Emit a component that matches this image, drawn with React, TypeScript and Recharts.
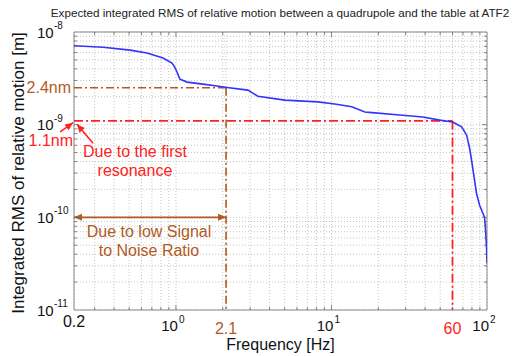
import { CartesianGrid, Line, LineChart, ReferenceArea, ReferenceDot, ReferenceLine, XAxis, YAxis } from "recharts";

const FONT = "'Liberation Sans', Arial, sans-serif";
const BROWN = "#b25a22";
const RED = "#ff2222";
const BLUE = "#3333ff";
const PLOT_W = 413;
const PLOT_H = 278;

// integrated RMS curve
const freqHz = [0.221, 0.34, 0.507, 0.651, 0.825, 0.943, 0.98, 1.015, 1.06, 1.18, 1.49, 1.83, 2.13, 2.9, 3.36, 5.01, 8.17, 10.5, 13.5, 16.4, 18.2, 27.5, 38.6, 49.6, 60.1, 68.7, 74, 77.3, 79.6, 83.2, 85.6, 89.6, 96.5, 98, 99.5, 100];
const rmsM = [7.11e-9, 6.84e-9, 6.38e-9, 5.93e-9, 5.24e-9, 4.62e-9, 4.2e-9, 3.7e-9, 3.1e-9, 2.88e-9, 2.74e-9, 2.61e-9, 2.52e-9, 2.36e-9, 2.03e-9, 1.84e-9, 1.76e-9, 1.67e-9, 1.56e-9, 1.37e-9, 1.35e-9, 1.27e-9, 1.21e-9, 1.12e-9, 1.07e-9, 9.46e-10, 7.7e-10, 5.57e-10, 4.13e-10, 2.51e-10, 1.82e-10, 1.35e-10, 1.0e-10, 7e-11, 4.5e-11, 3.2e-11];

const xTicks = [0.221, 0.3, 0.4, 0.5, 0.6, 0.7, 0.8, 0.9, 1, 2, 2.1, 3, 4, 5, 6, 7, 8, 9, 10, 20, 30, 40, 50, 60, 70, 80, 90, 100];
const yTicks = [1e-11, 2e-11, 3e-11, 4e-11, 5e-11, 6e-11, 7e-11, 8e-11, 9e-11, 1e-10, 2e-10, 3e-10, 4e-10, 5e-10, 6e-10, 7e-10, 8e-10, 9e-10, 1e-9, 2e-9, 3e-9, 4e-9, 5e-9, 6e-9, 7e-9, 8e-9, 9e-9, 1e-8];

const X_MIN = 0.221;
const X_MAX = 100;
const Y_MIN = 1e-11;
const Y_MAX = 1e-8;
const SNR_F = 2.1;
const SNR_V = 2.5e-9;
const RES_F = 60;
const RES_V = 1.1e-9;

const data = freqHz.map((f, i) => ({ f, v: rmsM[i] }));

const isDecade = (v: number) => {
  const e = Math.log10(v);
  return Math.abs(e - Math.round(e)) < 1e-6;
};

function XTick(props: any) {
  const { x, y, payload } = props;
  const v = payload.value;
  const len = isDecade(v) ? 5 : 3;
  const marks =
    v === X_MIN || v === X_MAX || v === SNR_F ? null : (
      <g stroke="#666" strokeWidth={0.8}>
        <line x1={x} y1={y} x2={x} y2={y - len} />
        <line x1={x} y1={y - PLOT_H} x2={x} y2={y - PLOT_H + len} />
      </g>
    );
  if (v === X_MIN) {
    return <text x={x} y={y + 16.5} textAnchor="middle" fontSize={16} fontFamily={FONT} fill="#111">0.2</text>;
  }
  if (v === SNR_F || v === RES_F) {
    return (
      <g>
        {marks}
        <text x={x} y={y + 23.5} textAnchor="middle" fontSize={16} fontFamily={FONT} fill={v === SNR_F ? BROWN : RED}>
          {v}
        </text>
      </g>
    );
  }
  if (!isDecade(v)) return marks;
  const e = Math.round(Math.log10(v));
  return (
    <g>
      {marks}
      <g fontFamily={FONT} fill="#111">
        <text x={x + 2} y={y + 21} textAnchor="end" fontSize={15}>10</text>
        <text x={x + 3} y={y + 13} fontSize={10}>{e}</text>
      </g>
    </g>
  );
}

function YTick(props: any) {
  const { x, y, payload } = props;
  const v = payload.value;
  const len = isDecade(v) ? 5 : 3;
  const marks =
    v === Y_MIN || v === Y_MAX ? null : (
      <g stroke="#666" strokeWidth={0.8}>
        <line x1={x} y1={y} x2={x + len} y2={y} />
        <line x1={x + PLOT_W} y1={y} x2={x + PLOT_W - len} y2={y} />
      </g>
    );
  if (!isDecade(v)) return marks;
  const e = Math.round(Math.log10(v));
  return (
    <g>
      {marks}
      <g fontFamily={FONT} fill="#111">
        <text x={x - 37} y={y + 5.5} fontSize={15}>10</text>
        <text x={x - 20} y={y - 3} fontSize={10}>{e}</text>
      </g>
    </g>
  );
}

function Arrow(props: any) {
  const { x1, y1, x2, y2, color, both } = props;
  const a = Math.atan2(y2 - y1, x2 - x1);
  const head = (px: number, py: number, ang: number) => {
    const L = 8;
    const W = 3.5;
    const bx = px - L * Math.cos(ang);
    const by = py - L * Math.sin(ang);
    const nx = -Math.sin(ang) * W;
    const ny = Math.cos(ang) * W;
    return `${px},${py} ${bx + nx},${by + ny} ${bx - nx},${by - ny}`;
  };
  return (
    <g>
      <line x1={x1} y1={y1} x2={x2} y2={y2} stroke={color} strokeWidth={1.6} />
      <polygon points={head(x2, y2, a)} fill={color} />
      {both && <polygon points={head(x1, y1, a + Math.PI)} fill={color} />}
    </g>
  );
}

function Note(props: any) {
  const { cx, cy, lines, color, anchor, dx, dy } = props;
  return (
    <text x={cx + dx} y={cy + dy} textAnchor={anchor} fontSize={16} fontFamily={FONT} fill={color}>
      {lines.map((t: string, i: number) => (
        <tspan key={i} x={cx + dx} dy={i === 0 ? 0 : 19.5}>
          {t}
        </tspan>
      ))}
    </text>
  );
}

export default function App() {
  return (
    <div style={{ position: "absolute", left: 0, top: 0, width: 529, height: 356, background: "#fff", overflow: "hidden" }}>
      <div
        style={{
          position: "absolute",
          left: 280,
          top: 6,
          transform: "translateX(-50%)",
          whiteSpace: "nowrap",
          fontFamily: FONT,
          fontSize: 11.7,
          color: "#222",
          lineHeight: "14px",
        }}
      >
        Expected integrated RMS of relative motion between a quadrupole and the table at ATF2
      </div>
      <LineChart width={529} height={356} data={data} margin={{ top: 32, right: 42, bottom: 0, left: 0 }}>
        <CartesianGrid stroke="#c4c4c4" strokeDasharray="1 2" />
        <XAxis
          dataKey="f"
          type="number"
          scale="log"
          domain={[X_MIN, X_MAX]}
          allowDataOverflow
          ticks={xTicks}
          interval={0}
          tick={<XTick />}
          tickSize={0}
          tickMargin={0}
          tickLine={false}
          axisLine={false}
          height={46}
          label={{
            content: (p: any) => (
              <text
                x={p.viewBox.x + p.viewBox.width / 2}
                y={p.viewBox.y + 40}
                textAnchor="middle"
                fontSize={16}
                fontFamily={FONT}
                fill="#111"
              >
                Frequency [Hz]
              </text>
            ),
          }}
        />
        <YAxis
          type="number"
          scale="log"
          domain={[Y_MIN, Y_MAX]}
          allowDataOverflow
          ticks={yTicks}
          interval={0}
          tick={<YTick />}
          tickSize={0}
          tickMargin={0}
          tickLine={false}
          axisLine={false}
          width={74}
          label={{
            content: (p: any) => {
              const cx = p.viewBox.x + 24;
              const cy = p.viewBox.y + p.viewBox.height / 2 + 2;
              return (
                <text
                  x={cx}
                  y={cy}
                  transform={`rotate(-90, ${cx}, ${cy})`}
                  textAnchor="middle"
                  fontSize={17}
                  fontFamily={FONT}
                  fill="#111"
                >
                  Integrated RMS of relative motion [m]
                </text>
              );
            },
          }}
        />
        <ReferenceArea x1={X_MIN} x2={X_MAX} y1={Y_MIN} y2={Y_MAX} fill="none" stroke="#8a8a8a" strokeWidth={1} ifOverflow="visible" />

        <ReferenceLine segment={[{ x: X_MIN, y: SNR_V }, { x: SNR_F, y: SNR_V }]} stroke={BROWN} strokeWidth={1.6} strokeDasharray="8 3 2 3" />
        <ReferenceLine segment={[{ x: SNR_F, y: SNR_V }, { x: SNR_F, y: Y_MIN }]} stroke={BROWN} strokeWidth={1.6} strokeDasharray="8 3 2 3" />
        <ReferenceLine segment={[{ x: X_MIN, y: RES_V }, { x: RES_F, y: RES_V }]} stroke={RED} strokeWidth={1.8} strokeDasharray="9 3 2 3" />
        <ReferenceLine segment={[{ x: RES_F, y: RES_V }, { x: RES_F, y: Y_MIN }]} stroke={RED} strokeWidth={1.8} strokeDasharray="9 3 2 3" />

        <Line dataKey="v" type="linear" stroke={BLUE} strokeWidth={1.6} dot={false} isAnimationActive={false} />

        <ReferenceLine
          segment={[{ x: X_MIN, y: 1e-10 }, { x: SNR_F, y: 1e-10 }]}
          ifOverflow="visible"
          shape={(p: any) => <Arrow {...p} color={BROWN} both />}
        />
        <ReferenceLine
          segment={[{ x: 0.18, y: 8.36e-10 }, { x: 0.218, y: 1.05e-9 }]}
          ifOverflow="visible"
          shape={(p: any) => <Arrow {...p} color={RED} />}
        />
        <ReferenceLine
          segment={[{ x: 0.293, y: 6.3e-10 }, { x: 0.231, y: 1.01e-9 }]}
          ifOverflow="visible"
          shape={(p: any) => <Arrow {...p} color={RED} />}
        />

        <ReferenceDot
          x={X_MIN}
          y={SNR_V}
          ifOverflow="visible"
          shape={(p: any) => <Note {...p} lines={["2.4nm"]} color={BROWN} anchor="end" dx={-3} dy={5.5} />}
        />
        <ReferenceDot
          x={X_MIN}
          y={RES_V}
          ifOverflow="visible"
          shape={(p: any) => <Note {...p} lines={["1.1nm"]} color={RED} anchor="end" dx={-1} dy={25} />}
        />
        <ReferenceDot
          x={0.545}
          y={4.13e-10}
          ifOverflow="visible"
          shape={(p: any) => <Note {...p} lines={["Due to the first", "resonance"]} color={RED} anchor="middle" dx={0} dy={-3.5} />}
        />
        <ReferenceDot
          x={0.671}
          y={5.64e-11}
          ifOverflow="visible"
          shape={(p: any) => <Note {...p} lines={["Due to low Signal", "to Noise Ratio"]} color={BROWN} anchor="middle" dx={0} dy={-3.5} />}
        />
      </LineChart>
    </div>
  );
}
